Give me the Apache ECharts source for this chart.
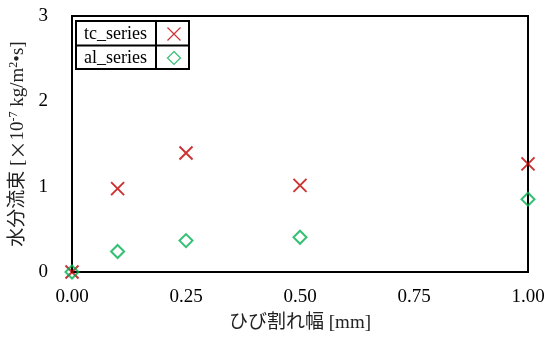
<!DOCTYPE html>
<html>
<head>
<meta charset="utf-8">
<script src="https://cdn.jsdelivr.net/npm/echarts@6/dist/echarts.min.js"></script>
<style>
  html, body { margin: 0; padding: 0; background: #fff; }
  #chart { width: 552px; height: 338px; }
</style>
</head>
<body>
<div id="chart"></div>
<script>
// Crack width [mm] for each measurement
const crackWidth = [0, 0.1, 0.25, 0.5, 1.0];
// Moisture flux [x10^-7 kg/m2·s]
const tcSeries = [0, 0.977, 1.395, 1.015, 1.267];
const alSeries = [0, 0.240, 0.368, 0.407, 0.853];
const xTicks = [0, 0.25, 0.5, 0.75, 1.0];
const yTicks = [0, 1, 2, 3];

const FONT = '"Liberation Serif", "Noto Sans CJK JP", serif';
const JP = '"Noto Sans CJK JP", sans-serif';
const crossPath = 'path://M0,0L10,10M10,0L0,10';
const diamondPath = 'path://M5,0L10,5L5,10L0,5Z';

const pairs = (xs, ys) => xs.map((x, i) => [x, ys[i]]);

const chart = echarts.init(document.getElementById('chart'), null, { renderer: 'canvas' });

chart.setOption({
  animation: false,
  backgroundColor: '#fff',
  grid: {
    left: 71, right: 24, top: 16, bottom: 64,
    show: true, borderColor: '#000', borderWidth: 2, backgroundColor: 'transparent'
  },
  legend: {
    orient: 'vertical',
    left: 84, top: 25,
    padding: 0,
    align: 'right',
    itemWidth: 44, itemHeight: 13, itemGap: 6,
    symbolKeepAspect: true,
    itemStyle: { borderWidth: 1.2 },
    textStyle: { fontFamily: FONT, fontSize: 18, color: '#000' },
    data: ['tc_series', 'al_series']
  },
  xAxis: {
    type: 'value',
    min: xTicks[0], max: xTicks[xTicks.length - 1], interval: 0.25,
    name: 'ひび割れ幅 [mm]',
    nameLocation: 'middle', nameGap: 42,
    nameTextStyle: { fontFamily: FONT, fontSize: 19, color: '#222' },
    axisLine: { lineStyle: { color: '#000', width: 2 } },
    axisTick: { show: false },
    splitLine: { show: false },
    axisLabel: {
      fontFamily: FONT, fontSize: 19, color: '#000', margin: 16,
      formatter: v => v.toFixed(2)
    }
  },
  yAxis: {
    type: 'value',
    min: yTicks[0], max: yTicks[yTicks.length - 1], interval: 1,
    name: '水分流束 [{j|×}10{sup|-7} kg/m{sup|2}•s]',
    nameLocation: 'middle', nameGap: 44,
    nameTextStyle: {
      fontFamily: FONT, fontSize: 19, color: '#222',
      rich: {
        j: { fontFamily: JP, fontSize: 19, color: '#222' },
        sup: { fontFamily: FONT, fontSize: 12, color: '#222', verticalAlign: 'top', padding: [0, 0, 8, 0] }
      }
    },
    axisLine: { lineStyle: { color: '#000', width: 2 } },
    axisTick: { show: false },
    splitLine: { show: false },
    axisLabel: { fontFamily: FONT, fontSize: 19, color: '#000', margin: 24 }
  },
  graphic: [
    { type: 'rect', shape: { x: 76, y: 21, width: 113, height: 48 },
      style: { fill: 'none', stroke: '#000', lineWidth: 2 }, z: 100 },
    { type: 'line', shape: { x1: 156, y1: 21, x2: 156, y2: 69 },
      style: { stroke: '#000', lineWidth: 2 }, z: 100 },
    { type: 'line', shape: { x1: 76, y1: 45.5, x2: 189, y2: 45.5 },
      style: { stroke: '#000', lineWidth: 2 }, z: 100 }
  ],
  series: [
    {
      name: 'tc_series', type: 'scatter',
      data: pairs(crackWidth, tcSeries),
      symbol: crossPath, symbolSize: 13, clip: false,
      itemStyle: { color: 'transparent', borderColor: '#c00000', borderWidth: 2 },
      z: 3
    },
    {
      name: 'al_series', type: 'scatter',
      data: pairs(crackWidth, alSeries),
      symbol: diamondPath, symbolSize: 13, clip: false,
      itemStyle: { color: 'transparent', borderColor: '#00b050', borderWidth: 2 },
      z: 4
    }
  ]
});
</script>
</body>
</html>
